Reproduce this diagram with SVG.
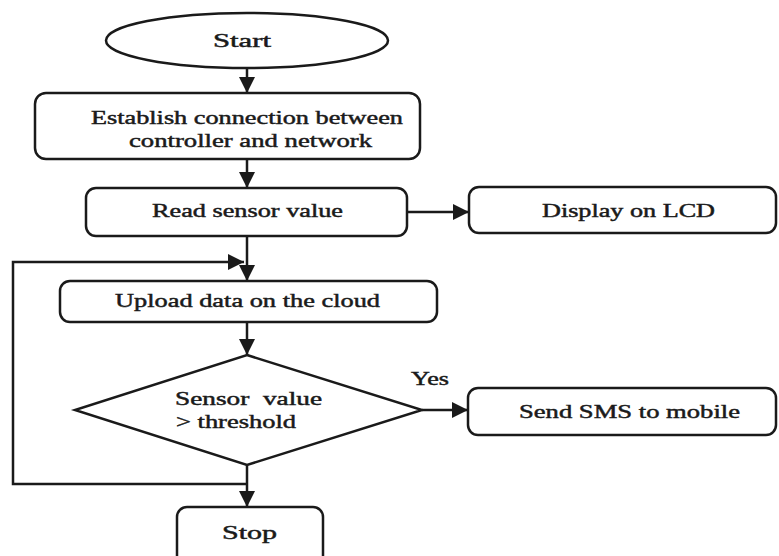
<svg xmlns="http://www.w3.org/2000/svg" width="779" height="556" viewBox="0 0 779 556">
<style>
.shape{fill:#fff;stroke:#1a1a1a;stroke-width:2.5}
.conn{fill:none;stroke:#1a1a1a;stroke-width:2.5}
.t{font-family:"Liberation Serif","Times New Roman",serif;font-size:18px;fill:#1a1a1a;stroke:#1a1a1a;stroke-width:0.45;white-space:pre}
</style>
<defs>
<marker id="arr" markerUnits="userSpaceOnUse" markerWidth="16" markerHeight="16" refX="14" refY="7" orient="auto" viewBox="0 0 14 14">
<path d="M0,0 L14,7 L0,14 z" fill="#1a1a1a"/>
</marker>
</defs>
<rect width="779" height="556" fill="#fff"/>
<g id="connectors">
<line class="conn" x1="247" y1="68" x2="247" y2="93" marker-end="url(#arr)"/>
<line class="conn" x1="247" y1="159" x2="247" y2="188" marker-end="url(#arr)"/>
<line class="conn" x1="407" y1="212" x2="469" y2="212" marker-end="url(#arr)"/>
<line class="conn" x1="247" y1="236" x2="247" y2="281" marker-end="url(#arr)"/>
<line class="conn" x1="247" y1="322" x2="247" y2="355" marker-end="url(#arr)"/>
<line class="conn" x1="422" y1="410" x2="468" y2="410" marker-end="url(#arr)"/>
<line class="conn" x1="247" y1="465" x2="247" y2="507" marker-end="url(#arr)"/>
<path class="conn" d="M247,484 H13 V262 H244" marker-end="url(#arr)"/>
</g>
<g id="start">
<ellipse class="shape" cx="247" cy="40.5" rx="141" ry="27.5"/>
<text class="t" x="213" y="47" textLength="58" lengthAdjust="spacingAndGlyphs">Start</text>
</g>
<g id="establish">
<rect class="shape" x="35" y="93" width="385" height="66" rx="11" ry="11"/>
<text class="t" x="91" y="124" textLength="312" lengthAdjust="spacingAndGlyphs">Establish connection between</text>
<text class="t" x="129" y="147" textLength="243" lengthAdjust="spacingAndGlyphs">controller and network</text>
</g>
<g id="read">
<rect class="shape" x="86" y="188" width="321" height="48" rx="10" ry="10"/>
<text class="t" x="152" y="217" textLength="191" lengthAdjust="spacingAndGlyphs">Read sensor value</text>
</g>
<g id="display">
<rect class="shape" x="469" y="187" width="307" height="46" rx="10" ry="10"/>
<text class="t" x="542" y="217" textLength="173" lengthAdjust="spacingAndGlyphs">Display on LCD</text>
</g>
<g id="upload">
<rect class="shape" x="60" y="281" width="377" height="41" rx="10" ry="10"/>
<text class="t" x="115" y="307" textLength="265" lengthAdjust="spacingAndGlyphs">Upload data on the cloud</text>
</g>
<g id="decision">
<polygon class="shape" points="247,355 422,410 247,465 75,410"/>
<text class="t" x="175" y="405" textLength="147" lengthAdjust="spacingAndGlyphs">Sensor  value</text>
<text class="t" x="176" y="428" textLength="120" lengthAdjust="spacingAndGlyphs">&gt; threshold</text>
</g>
<g id="yes-label">
<text class="t" x="411" y="385" textLength="38" lengthAdjust="spacingAndGlyphs">Yes</text>
</g>
<g id="sms">
<rect class="shape" x="468" y="388" width="308" height="47" rx="10" ry="10"/>
<text class="t" x="519" y="418" textLength="221" lengthAdjust="spacingAndGlyphs">Send SMS to mobile</text>
</g>
<g id="stop">
<rect class="shape" x="177" y="507" width="146" height="60" rx="10" ry="10"/>
<text class="t" x="222" y="539" textLength="55" lengthAdjust="spacingAndGlyphs">Stop</text>
</g>
</svg>
